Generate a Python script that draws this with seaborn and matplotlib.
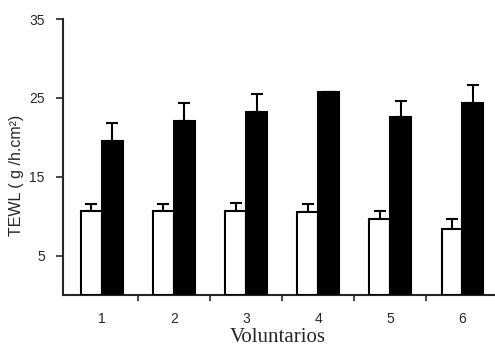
import pandas as pd
import seaborn as sns
import matplotlib.pyplot as plt

# Data
voluntarios = ["1", "2", "3", "4", "5", "6"]
grupos = ["basal", "tratado"]
basal = [10.7, 10.7, 10.7, 10.5, 9.6, 8.4]
basal_err = [0.8, 0.8, 1.0, 1.0, 1.1, 1.2]
tratado = [19.5, 22.1, 23.2, 25.8, 22.6, 24.4]
tratado_err = [2.3, 2.3, 2.3, 0.0, 2.0, 2.2]

df = pd.DataFrame({
    "Voluntarios": voluntarios * 2,
    "grupo": [grupos[0]] * 6 + [grupos[1]] * 6,
    "TEWL": basal + tratado,
})

sns.set_style("ticks")
plt.rcParams["font.family"] = ["Liberation Sans", "DejaVu Sans"]

fig = plt.figure(figsize=(4.95, 3.47), dpi=100)
ax = fig.add_axes([0.127, 0.15, 0.87, 0.795])

sns.barplot(data=df, x="Voluntarios", y="TEWL", hue="grupo",
            palette=["white", "black"], edgecolor="black", linewidth=1.5,
            width=0.58, gap=0, errorbar=None, legend=False, ax=ax, zorder=3)

# one-sided (upper) error bars
for bars, err in zip(ax.containers, [basal_err, tratado_err]):
    xs = [b.get_x() + b.get_width() / 2 for b in bars]
    ys = [b.get_height() for b in bars]
    ax.errorbar(xs, ys, yerr=[[0] * len(err), err], fmt="none",
                ecolor="black", elinewidth=1.5, capsize=4, capthick=1.5, zorder=2)

ax.set_ylim(0, 35)
ax.set_yticks([5, 15, 25, 35])
ax.set_xlim(-0.54, 5.43)
ax.set_xticks(range(6))
ax.set_xticks([0.5, 1.5, 2.5, 3.5, 4.5], minor=True)
ax.tick_params(axis="x", which="major", length=0, labelsize=10, pad=12)
ax.tick_params(axis="x", which="minor", length=4, width=1.2, direction="out")
ax.tick_params(axis="y", length=5, width=1.2, labelsize=10, pad=8)

ax.set_xlabel("Voluntarios", family=["Liberation Serif"], fontsize=15)
ax.set_ylabel("TEWL ( g /h.cm²)", fontsize=11.5)
ax.xaxis.set_label_coords(0.5, -0.155)
ax.xaxis.label.set_va("center")
ax.yaxis.set_label_coords(-0.107, 0.435)
ax.yaxis.label.set_va("center")

sns.despine(ax=ax)
for s in ["left", "bottom"]:
    ax.spines[s].set_linewidth(1.5)

plt.savefig("out.png", dpi=100)
